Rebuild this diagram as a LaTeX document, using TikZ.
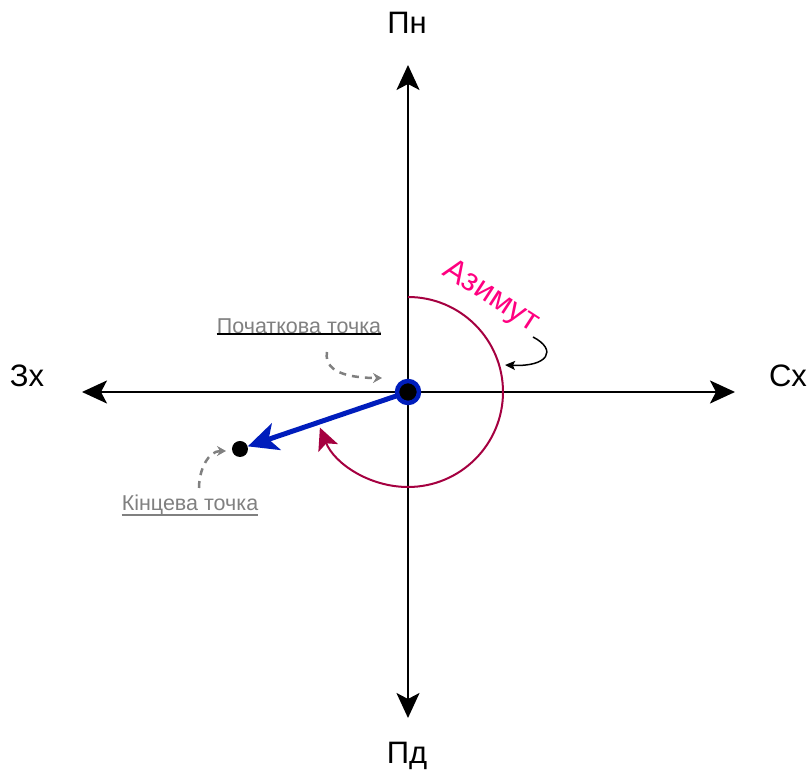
\documentclass[tikz,border=0pt]{standalone}
\usepackage{fontspec}
\setmainfont{Liberation Sans}
\usetikzlibrary{arrows.meta,positioning}
\definecolor{vecBlue}{HTML}{001DBC}
\definecolor{arcRed}{HTML}{A50040}
\definecolor{azPink}{HTML}{FF0080}
\definecolor{noteGray}{HTML}{808080}

\begin{document}
\begin{tikzpicture}[x=1pt, y=1pt,
  axis/.style={line width=2pt, -{Stealth[length=25pt, width=23pt, inset=6pt]}},
  dir/.style={font=\fontsize{31}{33}\selectfont},
  note/.style={font=\fontsize{21.5}{23}\selectfont, text=noteGray, inner xsep=0pt},
  hint/.style={noteGray, line width=2.5pt, dash pattern=on 7pt off 6pt, -{Stealth[length=9pt, width=10pt, inset=3pt]}}]
  \useasboundingbox (-408,-383) rectangle (401,392);

  % axes
  \coordinate (o) at (0,0);
  \coordinate (n) at (0,327);
  \coordinate (s) at (0,-326);
  \coordinate (w) at (-326,0);
  \coordinate (e) at (327,0);
  \draw[axis] (o) -- (n);
  \draw[axis] (o) -- (s);
  \draw[axis] (o) -- (w);
  \draw[axis] (o) -- (e);
  \node[dir] (pn) at (-1,369) {Пн};
  \node[dir] (pd) at (-1,-364) {Пд};
  \node[dir] (zx) at (-381,16) {Зх};
  \node[dir] (sx) at (380,16) {Сх};

  % azimuth arc
  \draw[arcRed, line width=2pt, -{Stealth[length=22pt, width=21pt, inset=5pt]}]
    (0,95) arc[start angle=90, end angle=-158, radius=95];
  \node[text=azPink, font=\fontsize{32}{34}\selectfont, rotate=-33] (az) at (83,95) {Азимут};
  \coordinate (azfrom) at (125,55);
  \coordinate (azto) at (97,27);
  \draw[line width=1.5pt, -{Stealth[length=10pt, width=9pt, inset=2pt]}]
    (azfrom) .. controls (150,42) and (140,25) .. (azto);

  % points
  \node[circle, fill=black, inner sep=0pt, minimum size=16pt] (end) at (-168,-57) {};
  \draw[vecBlue, line width=5pt, -{Stealth[length=30pt, width=28pt, inset=8pt]}]
    (o) -- (end);
  \node[circle, fill=black, draw=vecBlue, line width=4.5pt, inner sep=0pt, minimum size=22pt] (start) at (o) {};

  % labels
  \node[note] (startlbl) at (-109,66) {Початкова точка};
  \draw[line width=2pt] ([yshift=3pt]startlbl.south west) -- ([yshift=3pt]startlbl.south east);
  \coordinate (s1) at (-81,40);
  \coordinate (s2) at (-26,14);
  \draw[hint] (s1) to[out=-100, in=180] (s2);

  \node[note] (endlbl) at (-218,-113) {Кінцева точка};
  \draw[noteGray, line width=2pt] ([yshift=3pt]endlbl.south west) -- ([yshift=3pt]endlbl.south east);
  \coordinate (e1) at (-209,-96);
  \coordinate (e2) at (-182,-59);
  \draw[hint] (e1) to[out=90, in=180] (e2);
\end{tikzpicture}
\end{document}
